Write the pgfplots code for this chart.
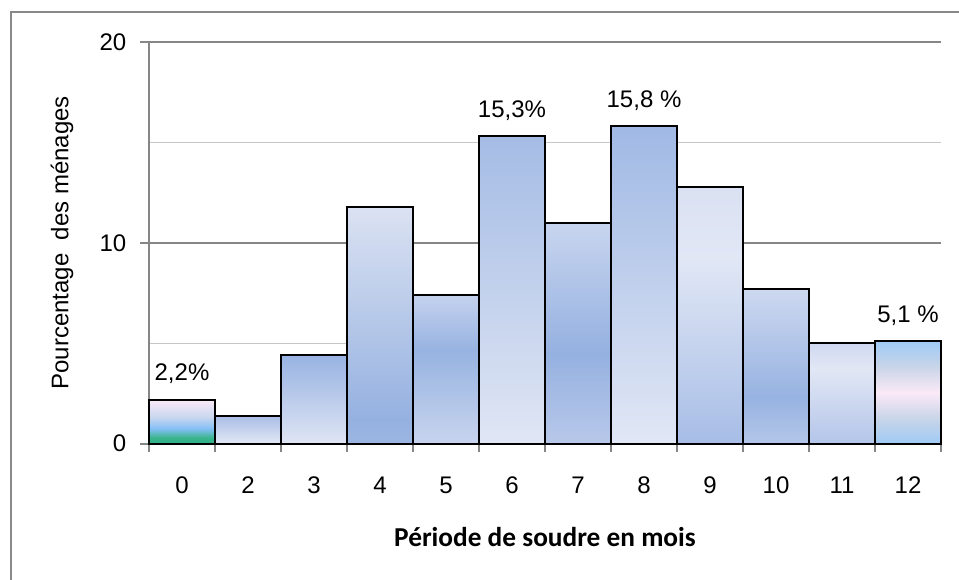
\documentclass[border=0pt]{standalone}
\usepackage{pgfplots}
\pgfplotsset{compat=1.18}
\usepackage{fontspec}
\setmainfont{Liberation Sans}
\newfontfamily\boldlab{Carlito}
\definecolor{axgray}{HTML}{868686}
\definecolor{mingray}{HTML}{C6C6C6}
\definecolor{framegray}{HTML}{898989}
% bar 0
\definecolor{a1}{HTML}{2CAE86}\definecolor{a2}{HTML}{3BB48E}\definecolor{a3}{HTML}{84BFF6}\definecolor{a4}{HTML}{C9D7EF}\definecolor{a5}{HTML}{FBE9F8}
\pgfdeclareverticalshading{b0}{100bp}{color(0bp)=(a1); color(25bp)=(a1); color(32bp)=(a2); color(42bp)=(a3); color(55bp)=(a4); color(75bp)=(a5); color(100bp)=(a5)}
% bar cat 2
\definecolor{b1a}{HTML}{E3E8F5}\definecolor{b1b}{HTML}{A9BDE6}
\pgfdeclareverticalshading{b1}{100bp}{color(0bp)=(b1a); color(25bp)=(b1a); color(75bp)=(b1b); color(100bp)=(b1b)}
% bar cat 3
\definecolor{b2a}{HTML}{DFE5F4}\definecolor{b2b}{HTML}{98B3E2}
\pgfdeclareverticalshading{b2}{100bp}{color(0bp)=(b2a); color(25bp)=(b2a); color(75bp)=(b2b); color(100bp)=(b2b)}
% bar cat 4
\definecolor{b3a}{HTML}{9CB6E2}\definecolor{b3b}{HTML}{95B1E0}\definecolor{b3c}{HTML}{DBE2F2}
\pgfdeclareverticalshading{b3}{100bp}{color(0bp)=(b3a); color(25bp)=(b3a); color(30bp)=(b3b); color(75bp)=(b3c); color(100bp)=(b3c)}
% bar cat 5
\definecolor{b4a}{HTML}{C8D4EE}\definecolor{b4b}{HTML}{97B3E1}\definecolor{b4c}{HTML}{C5D2EE}
\pgfdeclareverticalshading{b4}{100bp}{color(0bp)=(b4a); color(25bp)=(b4a); color(56.5bp)=(b4b); color(75bp)=(b4c); color(100bp)=(b4c)}
% bar cat 6
\definecolor{b5a}{HTML}{E0E6F4}\definecolor{b5b}{HTML}{A5BCE5}
\pgfdeclareverticalshading{b5}{100bp}{color(0bp)=(b5a); color(25bp)=(b5a); color(75bp)=(b5b); color(100bp)=(b5b)}
% bar cat 7
\definecolor{b6a}{HTML}{B8C8EA}\definecolor{b6b}{HTML}{95B1E0}\definecolor{b6c}{HTML}{C8D5EF}
\pgfdeclareverticalshading{b6}{100bp}{color(0bp)=(b6a); color(25bp)=(b6a); color(45.5bp)=(b6b); color(75bp)=(b6c); color(100bp)=(b6c)}
% bar cat 8
\definecolor{b7a}{HTML}{E1E7F5}\definecolor{b7b}{HTML}{A0B9E4}
\pgfdeclareverticalshading{b7}{100bp}{color(0bp)=(b7a); color(25bp)=(b7a); color(75bp)=(b7b); color(100bp)=(b7b)}
% bar cat 9
\definecolor{b8a}{HTML}{A7BDE6}\definecolor{b8b}{HTML}{E1E7F5}\definecolor{b8c}{HTML}{DAE1F2}
\pgfdeclareverticalshading{b8}{100bp}{color(0bp)=(b8a); color(25bp)=(b8a); color(61bp)=(b8b); color(75bp)=(b8c); color(100bp)=(b8c)}
% bar cat 10
\definecolor{b9a}{HTML}{B4C6E9}\definecolor{b9b}{HTML}{97B3E1}\definecolor{b9c}{HTML}{CDD8F0}
\pgfdeclareverticalshading{b9}{100bp}{color(0bp)=(b9a); color(25bp)=(b9a); color(40bp)=(b9b); color(75bp)=(b9c); color(100bp)=(b9c)}
% bar cat 11
\definecolor{b10a}{HTML}{B3C5E9}\definecolor{b10b}{HTML}{E2E7F5}\definecolor{b10c}{HTML}{CFD9F0}
\pgfdeclareverticalshading{b10}{100bp}{color(0bp)=(b10a); color(25bp)=(b10a); color(62.5bp)=(b10b); color(75bp)=(b10c); color(100bp)=(b10c)}
% bar cat 12
\definecolor{b11a}{HTML}{9FCAF5}\definecolor{b11b}{HTML}{C9D5E8}\definecolor{b11c}{HTML}{FBE9F7}
\pgfdeclareverticalshading{b11}{100bp}{color(0bp)=(b11a); color(25bp)=(b11a); color(37.5bp)=(b11b); color(50bp)=(b11c); color(62.5bp)=(b11b); color(75bp)=(b11a); color(100bp)=(b11a)}

\newcommand{\lblfont}{\fontsize{18pt}{21pt}\selectfont}
\begin{document}
\begin{tikzpicture}
\path[use as bounding box] (0,0) rectangle (719.25pt,-435pt);
\draw[framegray, line width=1.5pt] (8.25pt,-436pt) -- (8.25pt,-9pt) -- (720pt,-9pt);
\begin{axis}[
  at={(111.75pt,-332.8pt)}, anchor=south west,
  scale only axis, width=594pt, height=301.3pt,
  xmin=-0.5, xmax=11.5, ymin=0, ymax=20,
  ybar, bar width=1, bar shift=0pt,
  axis lines*=left,
  axis line style={axgray, line width=1.2pt},
  xtick={-0.5,0.5,...,11.5},
  xticklabels={0,2,3,4,5,6,7,8,9,10,11,12},
  x tick label as interval,
  ytick={0,10,20},
  minor ytick={5,15},
  ymajorgrids, yminorgrids,
  major grid style={axgray, line width=1.2pt},
  minor grid style={mingray, line width=1.2pt},
  tick align=outside,
  major tick length=6.5pt,
  minor tick length=0pt,
  tick style={axgray, line width=1.2pt},
  /pgf/number format/assume math mode=true,
  ticklabel style={font=\lblfont},
  yticklabel style={xshift=-7pt},
  xticklabel style={yshift=-15pt},
  every axis y label/.style={at={(axis description cs:-0.1098,0.5)}, rotate=90, anchor=center, font=\lblfont},
  every axis x label/.style={at={(axis description cs:0.5,-0.2564)}, anchor=base, font=\boldlab\bfseries\fontsize{20.5pt}{24pt}\selectfont},
  ylabel={Pourcentage\ \ des ménages},
  xlabel={Période de soudre en mois},
  clip=false,
]
\addplot[draw=black, line width=1.5pt, shade, shading=b0] coordinates {(0,2.2)};
\addplot[draw=black, line width=1.5pt, shade, shading=b1] coordinates {(1,1.4)};
\addplot[draw=black, line width=1.5pt, shade, shading=b2] coordinates {(2,4.4)};
\addplot[draw=black, line width=1.5pt, shade, shading=b3] coordinates {(3,11.8)};
\addplot[draw=black, line width=1.5pt, shade, shading=b4] coordinates {(4,7.4)};
\addplot[draw=black, line width=1.5pt, shade, shading=b5] coordinates {(5,15.3)};
\addplot[draw=black, line width=1.5pt, shade, shading=b6] coordinates {(6,11.0)};
\addplot[draw=black, line width=1.5pt, shade, shading=b7] coordinates {(7,15.8)};
\addplot[draw=black, line width=1.5pt, shade, shading=b8] coordinates {(8,12.8)};
\addplot[draw=black, line width=1.5pt, shade, shading=b9] coordinates {(9,7.7)};
\addplot[draw=black, line width=1.5pt, shade, shading=b10] coordinates {(10,5.0)};
\addplot[draw=black, line width=1.5pt, shade, shading=b11] coordinates {(11,5.1)};
\node[anchor=base, yshift=14pt, font=\lblfont] at (axis cs:0,2.2) {2,2\%};
\node[anchor=base, yshift=14pt, font=\lblfont] at (axis cs:5,15.3) {15,3\%};
\node[anchor=base, yshift=14pt, font=\lblfont] at (axis cs:7,15.8) {15,8 \%};
\node[anchor=base, yshift=14pt, font=\lblfont] at (axis cs:11,5.1) {5,1 \%};
\end{axis}
\end{tikzpicture}
\end{document}
